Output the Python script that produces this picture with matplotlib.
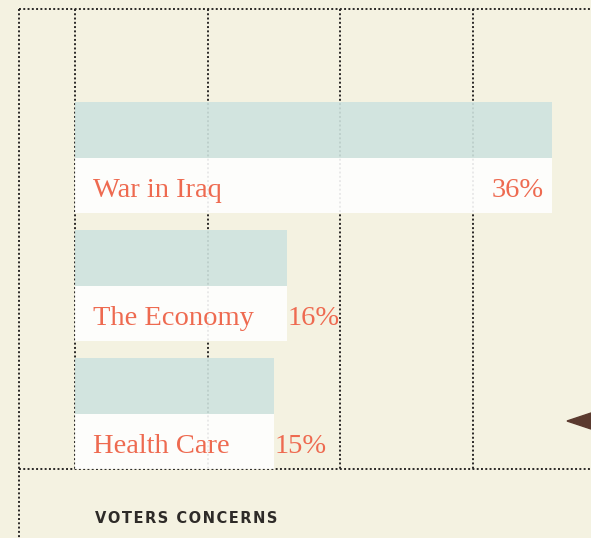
import matplotlib.pyplot as plt
from matplotlib.patches import Polygon

categories = ['War in Iraq', 'The Economy', 'Health Care']
values = [36, 16, 15]
grid_ticks = [0, 10, 20, 30]
title = 'VOTERS CONCERNS'

bg = '#f4f2e1'
teal = '#cfe3df'
salmon = '#ee6a50'
dark = '#2e2b28'

W, H = 591, 538
pxPerPct = 13.25
x0 = 75
rowPx = 128
firstCenter = 157.5

fig = plt.figure(figsize=(W / 100, H / 100), dpi=100, facecolor=bg)
ax = fig.add_axes([0, 0, 1, 1])
ax.set_facecolor(bg)
ax.set_xlim(-x0 / pxPerPct, (W - x0) / pxPerPct)
ax.set_ylim((H - firstCenter) / rowPx, -firstCenter / rowPx)
ax.axis('off')

def py(p):
    # pixel row -> data y
    return (p - firstCenter) / rowPx

def px(p):
    return (p - x0) / pxPerPct

dots = dict(color='#2a2826', linewidth=1.4, linestyle=(0, (1, 1.2)))
ax.vlines(grid_ticks, py(9), py(469), zorder=1, **dots)
ax.vlines(px(19), py(9), py(H), zorder=1, **dots)
ax.hlines([py(9), py(469)], px(19), px(W), zorder=1, **dots)

barH = 111 / rowPx
for i, (cat, v) in enumerate(zip(categories, values)):
    ax.barh(i - barH / 4, v, height=barH / 2, color=teal, alpha=0.9,
            zorder=2, linewidth=0)
    ax.barh(i + barH / 4, v, height=barH / 2, color='white', alpha=0.9,
            zorder=2, linewidth=0)
    ax.text(px(93), i + 0.31, cat, color=salmon, fontsize=20.5,
            family='Liberation Serif', va='baseline', ha='left', zorder=3)
    if i == 0:
        ax.text(v - 8 / pxPerPct, i + 0.31, f'{v}%', color=salmon,
                fontsize=20.5, family='Liberation Serif', va='baseline',
                ha='right', zorder=3)
    else:
        ax.text(v + 1 / pxPerPct, i + 0.31, f'{v}%', color=salmon,
                fontsize=20.5, family='Liberation Serif', va='baseline',
                ha='left', zorder=3)

tri = Polygon([(567 / W, 1 - 421 / H), (1.0, 1 - 413 / H), (1.0, 1 - 429 / H)],
              closed=True, transform=fig.transFigure, color='#5a3a2e')
fig.patches.append(tri)

fig.text(95 / W, 1 - 523 / H, '\u200a'.join(title), fontsize=10.5,
         fontweight='bold', color=dark, family='DejaVu Sans',
         va='baseline', ha='left')

fig.savefig('out.png', dpi=100, facecolor=bg)
